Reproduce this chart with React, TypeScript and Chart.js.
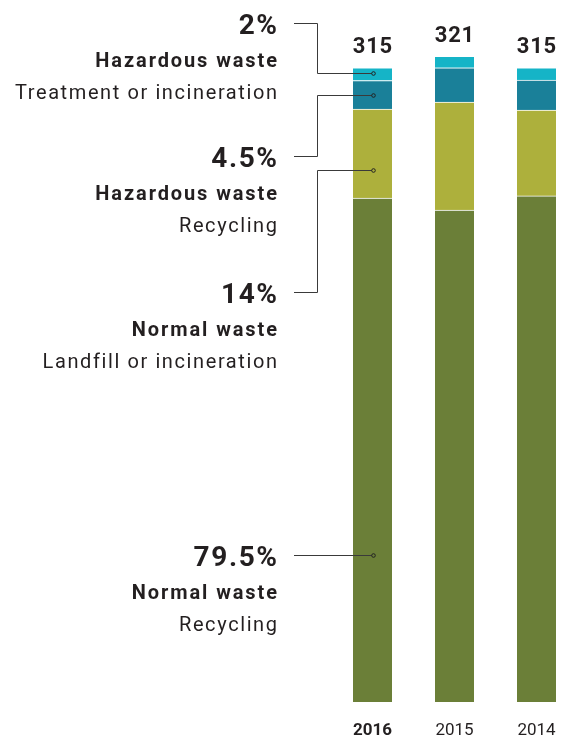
import React, { useEffect, useRef } from "react";
import { Chart, registerables } from "chart.js";

Chart.register(...registerables);

const years = ["2016", "2015", "2014"];
const normalRecycling = [250.4, 244.4, 251.4];
const normalLandfill = [44.1, 53.6, 42.7];
const hazardousRecycling = [14.2, 17.1, 14.9];
const hazardousTreatment = [6.3, 5.6, 6.1];

const seriesGroups = ["Normal waste", "Normal waste", "Hazardous waste", "Hazardous waste"];
const seriesMethods = ["Recycling", "Landfill or incineration", "Recycling", "Treatment or incineration"];
const seriesColors = ["#6b7f38", "#adb03c", "#1a8099", "#15b4c7"];

const FONT = "Roboto, 'Noto Sans', sans-serif";
const TEXT = "#231f20";

// annotation layout (pixels): baseline of percent text, dot position fraction inside segment
const annBaseline = [566, 303, 167, 34];
const annDotFrac = [0.709, 0.685, 0.5, 0.4];

function spacedText(ctx: any, text: string, x: number, y: number, font: string, spacing: number) {
  ctx.font = font;
  ctx.letterSpacing = `${spacing}px`;
  ctx.fillText(text, x + spacing, y);
  ctx.letterSpacing = "0px";
}

const annotationPlugin = {
  id: "annotations",
  afterDatasetsDraw(chart: any) {
    const ctx = chart.ctx;
    const data = chart.data.datasets;
    ctx.save();
    // totals above bars
    const topMeta = chart.getDatasetMeta(data.length - 1);
    years.forEach((_, i) => {
      const total = data.reduce((s: number, d: any) => s + d.data[i], 0);
      const bar = topMeta.data[i];
      ctx.fillStyle = TEXT;
      ctx.textAlign = "center";
      ctx.textBaseline = "alphabetic";
      ctx.font = `bold 22px ${FONT}`;
      ctx.letterSpacing = "0.8px";
      ctx.fillText(String(Math.round(total)), bar.x + 0.4, bar.y - 14.5);
      ctx.letterSpacing = "0px";
    });
    // left annotations for first year
    const total0 = data.reduce((s: number, d: any) => s + d.data[0], 0);
    const textRight = 277;
    const lineStart = 294;
    const elbowX = 317.5;
    data.forEach((d: any, k: number) => {
      const bar = chart.getDatasetMeta(k).data[0];
      const dotX = Math.round(bar.x) + 0.5;
      const dotY = Math.round(bar.y + annDotFrac[k] * (bar.base - bar.y)) + 0.5;
      const base = annBaseline[k];
      const lineY = base - 10.5;
      const pct = Math.round((d.data[0] / total0) * 1000) / 10;
      const pctText = (Number.isInteger(pct) ? pct.toFixed(0) : pct.toFixed(1)) + "%";
      ctx.fillStyle = TEXT;
      ctx.textAlign = "right";
      ctx.textBaseline = "alphabetic";
      spacedText(ctx, pctText, textRight, base, `bold 28px ${FONT}`, 1.6);
      spacedText(ctx, seriesGroups[k], textRight, base + 33, `bold 20px ${FONT}`, 1.9);
      spacedText(ctx, seriesMethods[k], textRight, base + 65, `20px ${FONT}`, 1.6);

      ctx.strokeStyle = "#3a3a3a";
      ctx.lineWidth = 1;
      ctx.beginPath();
      ctx.moveTo(lineStart, lineY);
      if (Math.abs(lineY - dotY) > 2) {
        ctx.lineTo(elbowX, lineY);
        ctx.lineTo(elbowX, dotY);
      }
      ctx.lineTo(dotX, Math.abs(lineY - dotY) > 2 ? dotY : lineY);
      ctx.stroke();
      ctx.beginPath();
      ctx.arc(dotX, Math.abs(lineY - dotY) > 2 ? dotY : lineY, 1.8, 0, Math.PI * 2);
      ctx.fillStyle = seriesColors[k];
      ctx.fill();
      ctx.strokeStyle = "#222";
      ctx.stroke();
    });
    ctx.restore();
  },
};

export default function App() {
  const ref = useRef<HTMLCanvasElement | null>(null);
  useEffect(() => {
    if (!ref.current) return;
    const series = [normalRecycling, normalLandfill, hazardousRecycling, hazardousTreatment];
    const chart = new Chart(ref.current, {
      type: "bar",
      data: {
        labels: years,
        datasets: series.map((vals, k) => ({
          label: `${seriesGroups[k]} – ${seriesMethods[k]}`,
          data: vals,
          backgroundColor: seriesColors[k],
          borderColor: "#ffffff",
          borderWidth: { top: 1, left: 0, right: 0, bottom: 0 },
          borderSkipped: false,
          barThickness: 39,
          clip: false,
        })),
      },
      options: {
        animation: false,
        responsive: false,
        maintainAspectRatio: false,
        layout: { padding: { left: 372.5, right: 27.5, top: 17.6, bottom: 0 } },
        plugins: { legend: { display: false }, tooltip: { enabled: false } },
        scales: {
          x: {
            stacked: true,
            offset: false,
            grid: { display: false, drawTicks: false },
            border: { display: false },
            afterFit: (s: any) => {
              s.height = 34;
              s.paddingLeft = 0;
              s.paddingRight = 0;
            },
            ticks: {
              padding: 22,
              color: TEXT,
              font: (c: any) => ({
                family: FONT,
                size: 17,
                weight: c.index === 0 ? "bold" : "normal",
                lineHeight: 14 / 17,
              }),
            },
          },
          y: { stacked: true, display: false, min: 0, max: 340 },
        },
      },
      plugins: [annotationPlugin],
    } as any);
    return () => chart.destroy();
  }, []);
  return (
    <div style={{ position: "absolute", left: 0, top: 0, width: 564, height: 736, background: "#fff" }}>
      <canvas ref={ref} width={564} height={736} style={{ width: 564, height: 736, display: "block" }} />
    </div>
  );
}
